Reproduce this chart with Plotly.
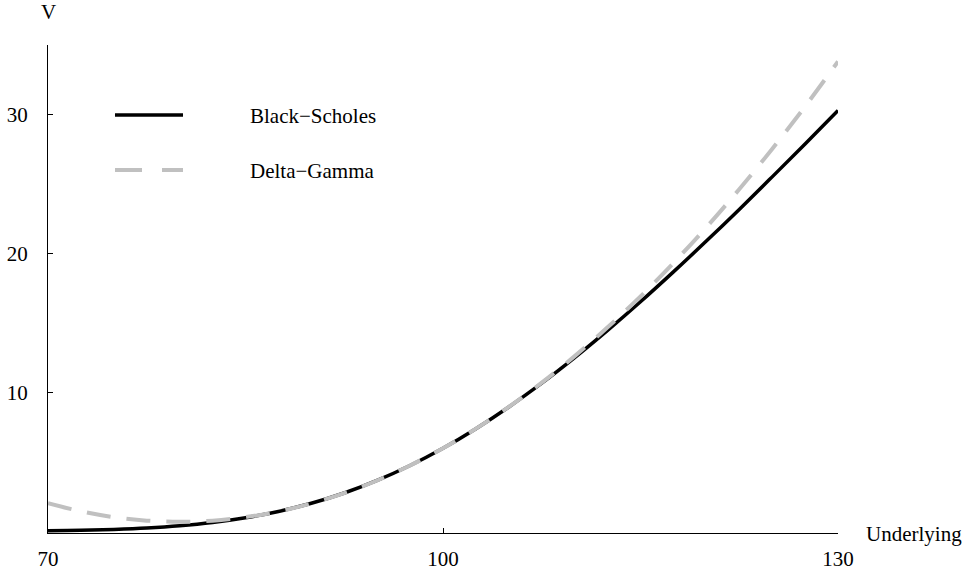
import plotly.graph_objects as go

underlying = [70, 72.5, 75, 77.5, 80, 82.5, 85, 87.5, 90, 92.5, 95, 97.5, 100,
              102.5, 105, 107.5, 110, 112.5, 115, 117.5, 120, 122.5, 125, 127.5, 130]
black_scholes = [0.04, 0.07, 0.14, 0.24, 0.40, 0.64, 0.98, 1.43, 2.02, 2.76, 3.67, 4.74, 5.98,
                 7.39, 8.95, 10.66, 12.50, 14.46, 16.52, 18.67, 20.89, 23.17, 25.51, 27.88, 30.28]
delta_gamma = [2.02, 1.44, 1.02, 0.77, 0.69, 0.77, 1.02, 1.43, 2.01, 2.75, 3.66, 4.74, 5.98,
               7.39, 8.96, 10.70, 12.61, 14.68, 16.91, 19.31, 21.88, 24.62, 27.52, 30.58, 33.81]
x_ticks = [70, 100, 130]
y_ticks = [10, 20, 30]
series_names = ["Black\u2212Scholes", "Delta\u2212Gamma"]

FONT = "'Liberation Serif', 'Times New Roman', Times, 'DejaVu Serif', serif"
FS = 21
BLACK = "#000000"
GRAY = "#c0c0c0"

fig = go.Figure()
fig.add_trace(go.Scatter(x=underlying, y=black_scholes, mode="lines", line_shape="spline",
                         line=dict(color=BLACK, width=3.5), name=series_names[0], showlegend=False))
fig.add_trace(go.Scatter(x=underlying, y=delta_gamma, mode="lines", line_shape="spline",
                         line=dict(color=GRAY, width=4, dash="24px,16px"), name=series_names[1],
                         showlegend=False))

# manual legend
leg_x0, leg_x1, txt_x = 0.0848, 0.1709, 0.2570
leg_y = [0.8566, 0.7439]
fig.add_shape(type="line", xref="paper", yref="paper", x0=leg_x0, x1=leg_x1, y0=leg_y[0], y1=leg_y[0],
              line=dict(color=BLACK, width=3.5))
fig.add_shape(type="line", xref="paper", yref="paper", x0=leg_x0, x1=leg_x1, y0=leg_y[1], y1=leg_y[1],
              line=dict(color=GRAY, width=4, dash="27px,20px"))
for name, yy in zip(series_names, leg_y):
    fig.add_annotation(xref="paper", yref="paper", x=txt_x, y=yy, text=name, showarrow=False,
                       xanchor="left", yanchor="middle", xshift=-3, yshift=-1,
                       font=dict(family=FONT, size=FS, color=BLACK))

fig.add_annotation(xref="paper", yref="paper", x=1.0, y=0, text="Underlying", showarrow=False,
                   xanchor="left", yanchor="middle", xshift=26, yshift=-1,
                   font=dict(family=FONT, size=FS, color=BLACK))
fig.add_annotation(xref="paper", yref="paper", x=0, y=1.068, text="V", showarrow=False,
                   xanchor="center", yanchor="middle", font=dict(family=FONT, size=FS, color=BLACK))

fig.update_layout(
    width=965, height=573,
    margin=dict(l=48, r=127, t=45, b=40, autoexpand=False),
    paper_bgcolor="white", plot_bgcolor="white",
    font=dict(family=FONT, size=FS, color=BLACK),
    xaxis=dict(range=[70, 130], tickvals=x_ticks, ticks="inside", ticklen=5, tickcolor=BLACK,
               showline=True, linecolor=BLACK, linewidth=1, showgrid=False, zeroline=False,
               ticklabelstandoff=7, automargin=False),
    yaxis=dict(range=[-0.12, 35], tickvals=y_ticks, ticks="inside", ticklen=5, tickcolor=BLACK,
               showline=True, linecolor=BLACK, linewidth=1, showgrid=False, zeroline=False,
               ticklabelstandoff=15, automargin=False),
)

fig.write_html("out.html", post_script="document.body.style.margin='0';",
               config={"displayModeBar": False})
